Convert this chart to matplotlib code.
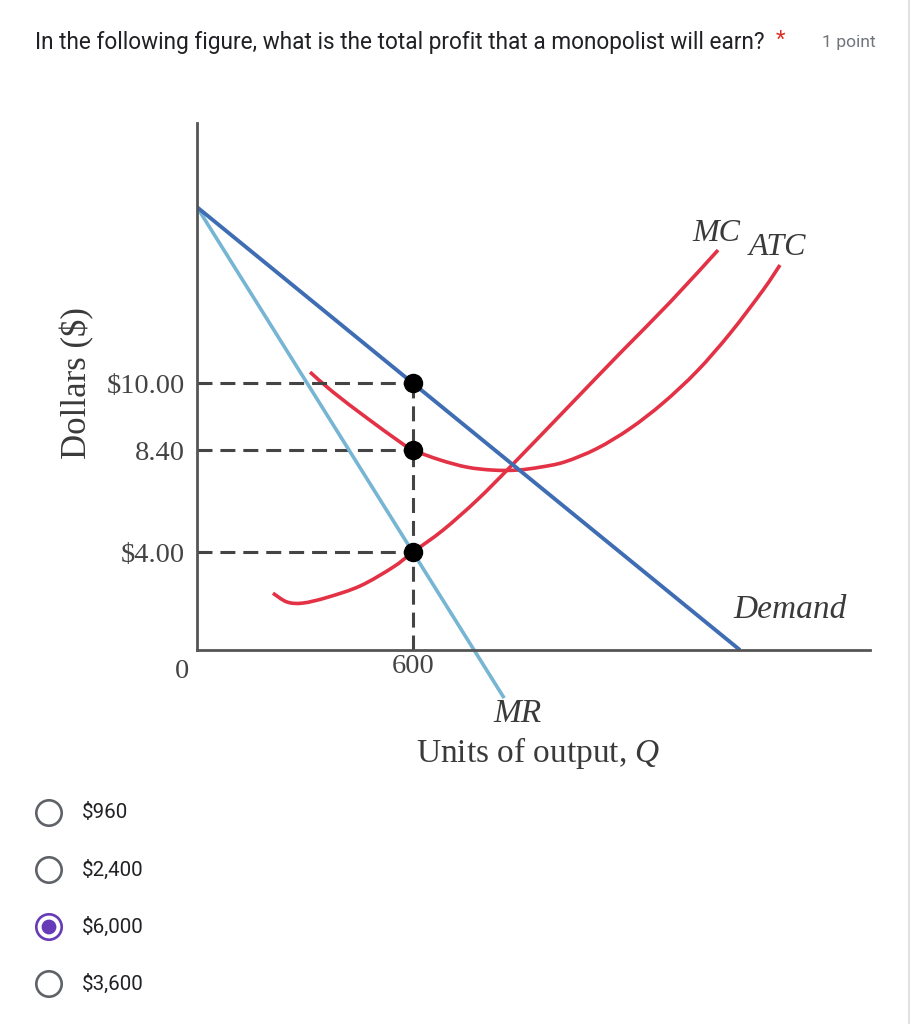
import numpy as np
import matplotlib.pyplot as plt
from matplotlib.patches import Circle, PathPatch
from matplotlib.path import Path

plt.rcParams["mathtext.fontset"] = "custom"
plt.rcParams["mathtext.rm"] = "Liberation Serif"
plt.rcParams["mathtext.it"] = "Liberation Serif:italic"

# chart units: q = output, p = height on the price axis (the axis is not to scale)
demand_q = [0, 1508]
demand_p = [16.59, 0]
mr_q = [0, 853]
mr_p = [16.59, -1.80]
mc_q = [211, 250, 294, 361, 453, 544, 600, 683, 778, 875, 1044, 1175, 1314, 1447]
mc_p = [2.13, 1.80, 1.76, 1.97, 2.40, 3.10, 3.67, 4.49, 5.62, 6.93, 9.29, 11.12, 13.03, 14.98]
atc_q = [314, 378, 472, 564, 600, 675, 750, 822, 889, 953, 1022, 1111, 1203, 1294, 1389, 1481, 1572, 1619]
atc_p = [10.41, 9.66, 8.69, 7.79, 7.49, 7.12, 6.85, 6.74, 6.74, 6.85, 7.05, 7.55, 8.30, 9.25, 10.45, 11.87, 13.48, 14.42]

q_star = 600
price_ticks = [10.0, 7.49, 3.67]
price_labels = ["$10.00", "8.40", "$4.00"]

question = "In the following figure, what is the total profit that a monopolist will earn?"
points = "1 point"
options = ["$960", "$2,400", "$6,000", "$3,600"]
selected = 2


def curve_path(xs, ys):
    # smooth bezier through the read points
    pts = np.column_stack([xs, ys]).astype(float)
    verts = [pts[0]]
    codes = [Path.MOVETO]
    n = len(pts)
    for i in range(n - 1):
        p0 = pts[max(i - 1, 0)]
        p1 = pts[i]
        p2 = pts[i + 1]
        p3 = pts[min(i + 2, n - 1)]
        verts += [p1 + (p2 - p0) / 6, p2 - (p3 - p1) / 6, p2]
        codes += [Path.CURVE4] * 3
    return Path(verts, codes)


W, H = 914, 1024
fig = plt.figure(figsize=(W / 100, H / 100), dpi=100)

# background layer in pixel coordinates for the form parts
bg = fig.add_axes([0, 0, 1, 1])
bg.set_xlim(0, W)
bg.set_ylim(H, 0)
bg.axis("off")
bg.plot([909, 909], [0, H], color="#dadce0", lw=1.2)

bg.text(35, 42, question, fontsize=16.3, family="Roboto", color="#202124", va="center")
bg.text(776, 40, "*", fontsize=16, family="Roboto", color="#d93025", va="center")
bg.text(876, 42, points, fontsize=12.6, family="Roboto", color="#70757a", va="center", ha="right")

for i, opt in enumerate(options):
    y = 813 + 57 * i
    if i == selected:
        bg.add_patch(Circle((49, y), 12.7, fill=False, ec="#673ab7", lw=1.9))
        bg.add_patch(Circle((49, y), 6.7, color="#673ab7"))
    else:
        bg.add_patch(Circle((49, y), 12.7, fill=False, ec="#5f6368", lw=1.9))
    bg.text(82, y, opt, fontsize=14.8, family="Roboto", color="#202124", va="center")

# chart
serif = "Liberation Serif"
ax = fig.add_axes([197 / W, 1 - 720 / H, (870 - 197) / W, (720 - 123) / H])
ax.set_xlim(0, 1869)
ax.set_ylim(-2.62, 19.74)
ax.patch.set_alpha(0)

for s in ["top", "right"]:
    ax.spines[s].set_visible(False)
ax.spines["left"].set_bounds(0, 19.74)
ax.spines["bottom"].set_position(("data", 0))
ax.spines["bottom"].set_bounds(0, 1869)
for s in ["left", "bottom"]:
    ax.spines[s].set_color("#555555")
    ax.spines[s].set_linewidth(2)

ax.set_yticks(price_ticks, price_labels)
ax.set_xticks([q_star], [str(q_star)])
ax.tick_params(axis="y", length=0, pad=8.5, labelsize=20.5, labelcolor="#444444")
ax.tick_params(axis="x", length=0, pad=3, labelsize=20.5, labelcolor="#444444")
for lab in ax.get_xticklabels() + ax.get_yticklabels():
    lab.set_family(serif)

dash = (0, (4.9, 2.6))
for p in price_ticks:
    ax.plot([0, q_star], [p, p], color="#444444", lw=2.2, ls=dash)
ax.plot([q_star, q_star], [0, price_ticks[0]], color="#444444", lw=2.2, ls=dash)

ax.plot(mr_q, mr_p, color="#76b5d3", lw=2.6, solid_capstyle="butt")
ax.plot(demand_q, demand_p, color="#3e6db3", lw=2.8, solid_capstyle="butt")
ax.add_patch(PathPatch(curve_path(mc_q, mc_p), fill=False, ec="#e33245", lw=2.6, capstyle="butt"))
ax.add_patch(PathPatch(curve_path(atc_q, atc_p), fill=False, ec="#e33245", lw=2.6, capstyle="butt"))
ax.plot([q_star] * 3, price_ticks, "o", color="black", ms=13, zorder=5)

ax.text(1442, 15.62, "MC", family=serif, style="italic", fontsize=23, color="#3a3a3a", ha="center", va="center")
ax.text(1611, 15.06, "ATC", family=serif, style="italic", fontsize=23, color="#3a3a3a", ha="center", va="center")
ax.text(1647, 1.5, "Demand", family=serif, style="italic", fontsize=24, color="#3a3a3a", ha="center", va="center")
ax.text(889, -2.4, "MR", family=serif, style="italic", fontsize=24, color="#3a3a3a", ha="center", va="center")
ax.text(947, -3.86, "Units of output, $Q$", family=serif, fontsize=24, color="#3a3a3a", ha="center", va="center")

bg.text(77, 383, "Dollars ($)", family=serif, fontsize=25, color="#3a3a3a", rotation=90, ha="center", va="center")
bg.text(182, 672, "0", family=serif, fontsize=20.5, color="#444444", ha="center", va="center")

fig.savefig("out.png", dpi=100, facecolor="white")
